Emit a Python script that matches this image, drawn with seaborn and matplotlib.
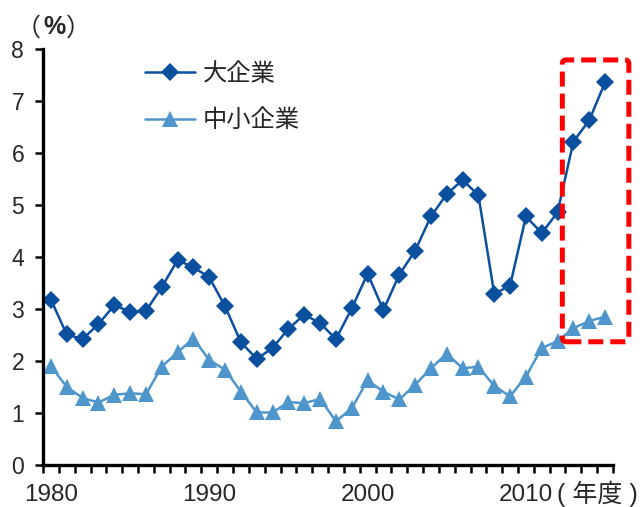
import numpy as np
import pandas as pd
import matplotlib
matplotlib.use("Agg")
import matplotlib.pyplot as plt
from matplotlib.patches import FancyBboxPatch
import seaborn as sns

# 年度
years = list(range(1980, 2016))

# 大企業 (%)
large = [3.18, 2.51, 2.42, 2.71, 3.07, 2.95, 2.96, 3.42, 3.94, 3.80,
         3.61, 3.05, 2.36, 2.04, 2.25, 2.62, 2.89, 2.73, 2.42, 3.01,
         3.68, 2.98, 3.66, 4.12, 4.78, 5.21, 5.48, 5.19, 3.29, 3.45,
         4.78, 4.46, 4.86, 6.22, 6.63, 7.36]

# 中小企業 (%)
small = [1.90, 1.50, 1.29, 1.20, 1.35, 1.38, 1.36, 1.89, 2.17, 2.43,
         2.02, 1.83, 1.41, 1.01, 1.01, 1.21, 1.19, 1.27, 0.84, 1.09,
         1.63, 1.41, 1.26, 1.54, 1.86, 2.14, 1.86, 1.89, 1.52, 1.32,
         1.70, 2.25, 2.38, 2.63, 2.77, 2.85]

series_names = ["大企業", "中小企業"]
year_labels = ["1980", "1990", "2000", "2010"]

sns.set_theme(style="white")
plt.rcParams["font.family"] = ["Liberation Sans", "Noto Sans CJK JP", "DejaVu Sans"]
CJK = ["Noto Sans CJK JP", "DejaVu Sans"]
MIXED = ["Liberation Sans", "Noto Sans CJK JP", "DejaVu Sans"]

df = pd.DataFrame({"年度": years, series_names[0]: large, series_names[1]: small})
df["pos"] = np.arange(len(years))
long = df.melt(id_vars=["年度", "pos"], value_vars=series_names,
               var_name="区分", value_name="値")

W, H = 644, 507
fig = plt.figure(figsize=(W / 100, H / 100), dpi=100)
ax = fig.add_axes([43 / W, 1 - 465 / H, 570 / W, 416 / H])

palette = {series_names[0]: "#0B4F9F", series_names[1]: "#4E96CB"}
markers = {series_names[0]: "D", series_names[1]: "^"}
msize = {series_names[0]: 9.5, series_names[1]: 12}
sns.lineplot(data=long, x="pos", y="値", hue="区分", style="区分",
             palette=palette, markers=markers, dashes=False,
             linewidth=1.8, markersize=9.5, markeredgewidth=0,
             ax=ax, legend=False)
for line in ax.lines:
    if line.get_marker() == "^":
        line.set_markersize(msize[series_names[1]])

ax.set_xlim(-0.5, len(years) - 0.5)
ax.set_ylim(0, 8)
ax.set_yticks(range(0, 9))
ax.set_yticklabels([str(v) for v in range(0, 9)], fontsize=16.5)

# boundary ticks between years, labels centered on the years
ax.set_xticks(np.arange(len(years) + 1) - 0.5)
ax.set_xticklabels([])
ax.set_xticks([years.index(int(l)) for l in year_labels], minor=True)
ax.set_xticklabels(year_labels, minor=True, fontsize=17.5)
ax.tick_params(axis="x", which="minor", length=0, pad=13.5)

ax.set_xlabel("")
ax.set_ylabel("")
for s in ["top", "right"]:
    ax.spines[s].set_visible(False)
for s in ["left", "bottom"]:
    ax.spines[s].set_color("black")
    ax.spines[s].set_linewidth(2.4)
ax.tick_params(axis="both", which="major", direction="out", length=5.5,
               width=1.8, color="black", left=True, bottom=True)
ax.tick_params(axis="y", which="major", pad=8)

# unit labels
fig.text(41 / W, 1 - 29 / H, "（", ha="right", va="center",
         fontsize=18, family=CJK)
fig.text(54 / W, 1 - 27 / H, "%", ha="center", va="center",
         fontsize=18, fontweight="bold")
fig.text(66 / W, 1 - 29 / H, "）", ha="left", va="center",
         fontsize=18, family=CJK)
fig.text(557 / W, 1 - 494 / H, "( 年度 )", ha="left", va="center",
         fontsize=18, family=MIXED)

# legend
handles = [plt.Line2D([], [], color=palette[n], marker=markers[n],
                      markersize=msize[n], markeredgewidth=0, linewidth=1.8)
           for n in series_names]
ax.legend(handles, series_names, loc="upper left",
          bbox_to_anchor=(0.179, 0.972), frameon=False,
          prop={"family": CJK, "size": 17.5},
          handlelength=2.05, handletextpad=0.33, labelspacing=0.85,
          borderpad=0, borderaxespad=0)

# dashed highlight around the latest years
box = FancyBboxPatch((32.3, 2.37), 4.2, 5.42,
                     boxstyle="round,pad=0,rounding_size=0.25",
                     mutation_aspect=0.3,
                     fill=False, edgecolor="#FF0000", linewidth=3.6,
                     linestyle=(0, (3.0, 1.4)), clip_on=False, zorder=5)
ax.add_patch(box)

fig.savefig("out.png", dpi=100)
